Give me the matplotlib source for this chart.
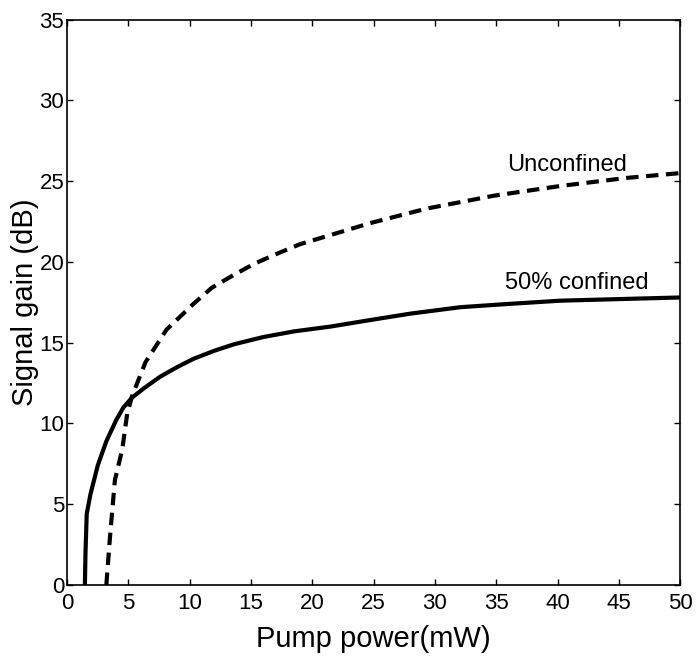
import matplotlib
matplotlib.use('Agg')
import matplotlib.pyplot as plt

plt.rcParams['font.family'] = ['Liberation Sans', 'DejaVu Sans']

# 50% confined (solid)
conf_x = [1.45, 1.5, 1.6, 1.9, 2.5, 3.2, 4.0, 4.6, 5.3, 6.3, 7.6, 9.0, 10.3, 12.0, 13.6, 16.0, 18.5, 21.5, 24.7, 28.0, 32.1, 36.0, 40.2, 45.0, 50.0]
conf_y = [0.0, 2.0, 4.4, 5.6, 7.4, 8.9, 10.2, 11.0, 11.6, 12.2, 12.9, 13.5, 14.0, 14.5, 14.9, 15.35, 15.7, 16.0, 16.4, 16.8, 17.2, 17.4, 17.6, 17.7, 17.8]

# unconfined (dashed)
unconf_x = [3.2, 3.5, 3.9, 4.5, 4.9, 5.3, 6.4, 8.1, 10.3, 11.8, 13.6, 15.3, 17.1, 19.0, 21.2, 24.7, 29.3, 34.8, 40.2, 45.6, 50.0]
unconf_y = [0.0, 3.0, 6.5, 8.4, 10.6, 11.7, 13.8, 15.8, 17.4, 18.4, 19.2, 19.9, 20.5, 21.1, 21.6, 22.4, 23.3, 24.1, 24.7, 25.2, 25.5]

fig = plt.figure(figsize=(6.99, 6.69), dpi=100)
ax = fig.add_axes([0.096, 0.1256, 0.877, 0.845])

ax.plot(conf_x, conf_y, color='black', linewidth=3, solid_capstyle='butt')
ax.plot(unconf_x, unconf_y, color='black', linewidth=3, linestyle=(0, (3, 1.8)), dash_capstyle='butt')

ax.text(40.8, 26.0, 'Unconfined', fontsize=17, ha='center', va='center')
ax.text(41.6, 18.7, '50% confined', fontsize=17, ha='center', va='center')

ax.set_xlim(0, 50)
ax.set_ylim(0, 35)
ax.set_xticks(range(0, 51, 5))
ax.set_yticks(range(0, 36, 5))
ax.tick_params(direction='in', length=4, width=1, labelsize=16, top=True, right=True)
ax.tick_params(axis='x', pad=6)
ax.tick_params(axis='y', pad=2)
for s in ax.spines.values():
    s.set_linewidth(1.2)

ax.set_xlabel('Pump power(mW)', fontsize=21, labelpad=8)
ax.set_ylabel('Signal gain (dB)', fontsize=21, labelpad=0)

fig.savefig('out.png', dpi=100)
